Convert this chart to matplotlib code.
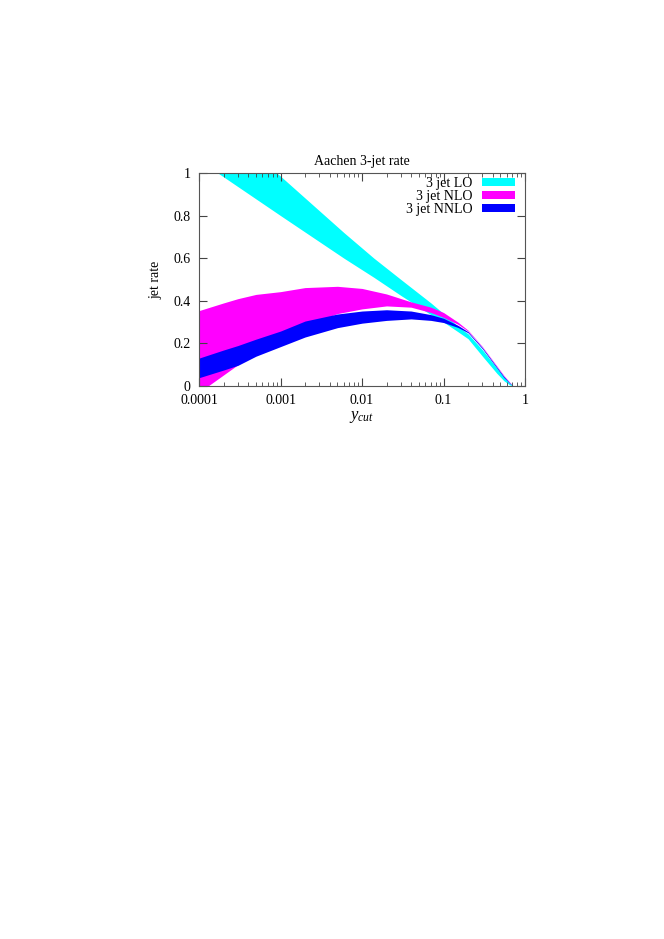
import numpy as np
import matplotlib
matplotlib.use("Agg")
import matplotlib.pyplot as plt
from matplotlib.patches import Rectangle

plt.rcParams["font.family"] = ["Liberation Serif", "DejaVu Serif"]
plt.rcParams["mathtext.fontset"] = "custom"
plt.rcParams["mathtext.rm"] = "Liberation Serif"
plt.rcParams["mathtext.it"] = "Liberation Serif:italic"

# ---- data ----
# shared grid for NLO / NNLO bands
ycut = [1e-4, 2e-4, 3e-4, 5e-4, 1e-3, 2e-3, 5e-3, 0.01, 0.02, 0.04,
        0.07, 0.1, 0.15, 0.2, 0.3, 0.45, 0.55, 0.65, 0.72]
nlo_hi = [0.354, 0.39, 0.41, 0.43, 0.443, 0.462, 0.468, 0.458, 0.432, 0.395,
          0.37, 0.345, 0.30, 0.262, 0.185, 0.095, 0.05, 0.018, 0.0]
nlo_lo = [-0.03, 0.052, 0.10, 0.15, 0.215, 0.285, 0.34, 0.362, 0.376, 0.37,
          0.345, 0.322, 0.29, 0.258, 0.182, 0.092, 0.047, 0.016, 0.0]
nnlo_hi = [0.131, 0.169, 0.19, 0.22, 0.258, 0.305, 0.338, 0.352, 0.358, 0.352,
           0.335, 0.318, 0.285, 0.255, 0.18, 0.09, 0.045, 0.015, 0.0]
nnlo_lo = [0.039, 0.075, 0.097, 0.14, 0.185, 0.23, 0.274, 0.295, 0.308, 0.315,
           0.308, 0.298, 0.275, 0.25, 0.175, 0.085, 0.04, 0.012, 0.0]

# LO band grid
ycut_lo = [1e-4, 1.7e-4, 1e-3, 6e-3, 0.014, 0.03, 0.07, 0.1, 0.12, 0.15,
           0.2, 0.3, 0.45, 0.55, 0.65, 0.72]
lo_hi = [1.32, 1.24, 0.985, 0.72, 0.6, 0.5, 0.39, 0.34, 0.315, 0.28,
         0.245, 0.17, 0.085, 0.042, 0.012, 0.0]
lo_lo = [1.06, 1.0, 0.8, 0.6, 0.51, 0.425, 0.335, 0.30, 0.28, 0.255,
         0.222, 0.14, 0.06, 0.025, 0.005, 0.0]

labels = ["3 jet LO", "3 jet NLO", "3 jet NNLO"]
colors = ["#00ffff", "#ff00ff", "#0000ff"]

fig = plt.figure(figsize=(6.64, 9.39), dpi=100)
ax = fig.add_axes([0.2997, 0.5889, 0.491, 0.2269])

ax.fill_between(ycut_lo, lo_lo, lo_hi, color=colors[0], lw=0)
ax.fill_between(ycut, nlo_lo, nlo_hi, color=colors[1], lw=0)
ax.fill_between(ycut, nnlo_lo, nnlo_hi, color=colors[2], lw=0)

ax.set_xscale("log")
ax.set_xlim(1e-4, 1)
ax.set_ylim(0, 1)
ax.set_xticks([1e-4, 1e-3, 1e-2, 0.1, 1])
ax.set_xticklabels(["0.0001", "0.001", "0.01", "0.1", "1"])
ax.set_yticks([0, 0.2, 0.4, 0.6, 0.8, 1])
ax.set_yticklabels(["0", "0.2", "0.4", "0.6", "0.8", "1"])
ax.tick_params(which="both", direction="in", top=True, right=True,
               labelsize=10, color="#444444")
ax.tick_params(which="major", length=6)
ax.tick_params(which="minor", length=3)
ax.tick_params(axis="x", pad=6)
ax.tick_params(axis="y", pad=6)
for s in ax.spines.values():
    s.set_color("#555555")
    s.set_linewidth(0.8)

ax.set_title("Aachen 3-jet rate", fontsize=10, pad=6)
ax.set_ylabel("jet rate", fontsize=10, labelpad=8)
ax.set_xlabel(r"$y_{cut}$", fontsize=12, labelpad=1)

handles = [Rectangle((0, 0), 1, 1, color=c, lw=0) for c in colors]
leg = ax.legend(handles, labels, loc="upper right", markerfirst=False,
                bbox_to_anchor=(0.97, 0.98),
                frameon=False, fontsize=10, handlelength=2.4, handleheight=0.5,
                handletextpad=0.7, labelspacing=0.0, borderaxespad=0.0,
                borderpad=0.0)
for t in leg.get_texts():
    t.set_ha("right")

fig.savefig("out.png", dpi=100)
